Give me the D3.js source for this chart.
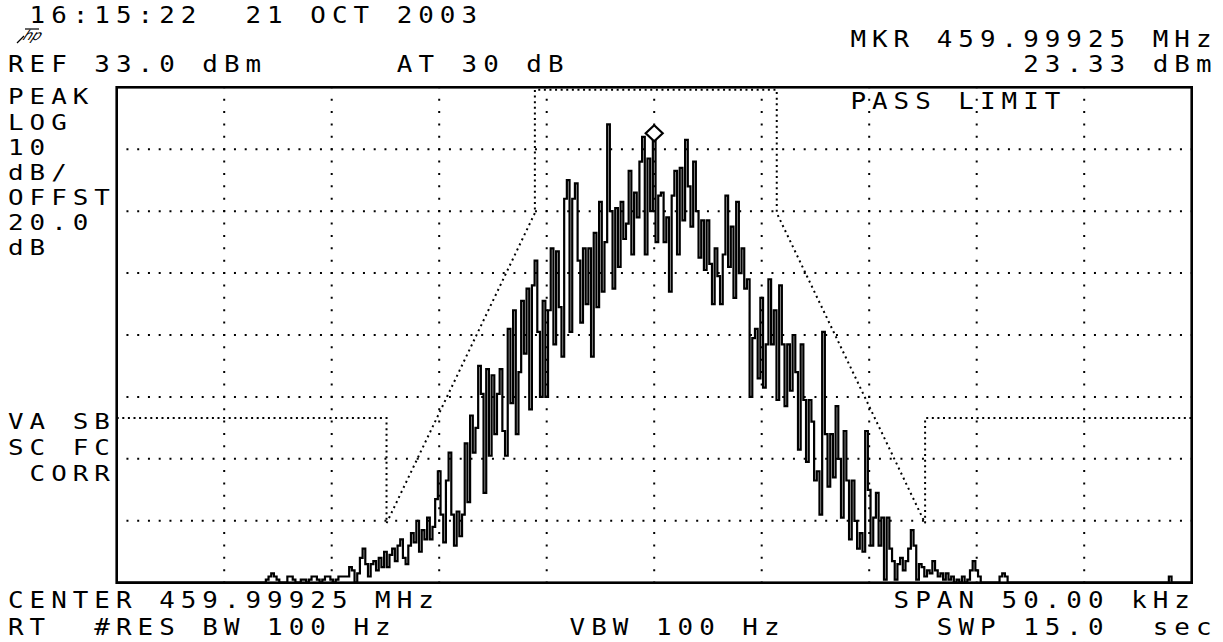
<!DOCTYPE html>
<html>
<head>
<meta charset="utf-8">
<script src="https://cdn.jsdelivr.net/npm/d3@7"></script>
<style>
  html, body { margin: 0; padding: 0; background: #fff; }
  svg text { font-family: "DejaVu Sans Mono", monospace; font-size: 22.5px; fill: #000; white-space: pre; }
</style>
</head>
<body>
<div id="chart"></div>
<script>
// analyzer settings
const refLevel = 33;      // dBm, top of screen
const dbPerDiv = 10;
const numDivY = 8;
const spanKHz = 50;

// trace, 401 sweep points, dBm
const traceDbm = [
  -48,-48,-48,-48,-48,-48,-48,-48,-48,-48,-48,-48,-48,-48,-48,-48,-48,-48,-48,-48,
  -48,-48,-48,-48,-48,-48,-48,-48,-48,-48,-48,-48,-48,-48,-48,-48,-48,-48,-48,-48,
  -48,-48,-48,-48,-48,-48,-48,-48,-48,-48,-48,-48,-48,-48,-48,
  -47,-46.5,-46,-45.5,-46,-46.5,-47,-47,-47,-46,-46,-46.5,-47,-47,-46.5,-46.5,-47,-46.5,-46,-46,
  -46.5,-47,-46.5,-46,-46,-46.5,-47,-46.5,-46,-46,-46,-46,-44.5,-45,-47,-45.5,-43,-41.5,-44,-46,
  -44,-43.5,-45,-43,-44.5,-42,-44.5,-42.5,-41.5,-43.5,-41,-40,-43,-44,-41,-39,-40.5,-37,-42,-38.5,
  -40,-36.5,-40,-38,-33.5,-29,-36,-40.5,-30.5,-26,-36,-41,-35.5,-39.5,-36,-24.5,-34,-20,-26,-22,
  -12,-16.5,-32.5,-12.5,-26.5,-13.5,-23,-16.5,-12.5,-22.5,-26.5,-6,-18,-3,-23,-13,-1.5,-10,0.5,-19,
  1,5,-6.5,-17,-1.5,-17,-3,7,-8.5,6.5,-2.5,-10.5,15,18,-6.5,15,17.5,5,-5,7,
  -2,7,-10.5,9.5,-2.5,14.5,0,8,27,13,0.5,13.5,4,14.5,8.5,11,19.5,6,16,12,
  21,25,6,21.5,13,25,8,15.5,16,8,12,0,15.5,19.5,6,20,11.5,24.5,17,10.5,
  21,13,5.5,11.5,3.5,11.5,4.5,-2,7,2.5,-2,6,15.5,4,10.5,-1,14.5,3,7,0.5,
  2,-17,-7.5,-6,-14,-1,-15.5,-8.5,2,-8.5,-3,-17.5,1,-8.5,-18.5,-8.5,-16,-7,-13,-25.5,
  -8.5,-17.5,-27.5,-17.5,-21,-30.5,-29,-36,-6.5,-23,-31.5,-23,-30,-18.5,-27,-36.5,-22.5,-30.5,-40,-30.5,
  -37,-41.5,-39,-42,-22.5,-32,-41,-36.5,-32.5,-41,-36.5,-46.5,-36.5,-41.5,-43.5,-46.5,-44,-43,-45,-43.5,
  -41.5,-38.5,-41,-46.5,-44,-44.5,-46,-45,-45.5,-43.5,-45,-46,-45.5,-46.5,-45.5,-46.5,-46,-47,-46.5,-47,
  -46,-47,-46.5,-45,-43.5,-45,-46,-47,-47,-47,-47,-47,-47,-47,-46,-45.5,-46,-47,
  -48,-48,-48,-48,-48,-48,-48,-48,-48,-48,-48,-48,-48,-48,-48,-48,-48,-48,-48,-48,
  -48,-48,-48,-48,-48,-48,-48,-48,-48,-48,-48,-48,-48,-48,-48,-48,-48,-48,-48,-48,
  -48,-48,-48,-48,-48,-48,-48,-48,-48,-48,-48,-48,-48,-48,-48,-48,-48,-48,-48,
  -46,-47.5,-48,-48,-48,-48,-48,-48,-48
];

// pass limit mask, kHz from center / dBm
const limitKHz = [-25, -12.45, -12.45, -5.55, -5.55, 5.7, 5.7, 12.6, 12.6, 25];
const limitDbm = [-20.4, -20.4, -37.4, 12.7, 32.6, 32.6, 12.7, -37.4, -20.4, -20.4];

// marker
const markerKHz = 0;
const markerDbm = 23.33;

// graticule lines
const gridKHz = [-20, -15, -10, -5, 0, 5, 10, 15, 20];
const gridDbm = [23, 13, 3, -7, -17, -27, -37];

// annotation text: [text, column, baseline]
const headerText = [
  [" 16:15:22  21 OCT 2003", 0, 23],
  ["MKR 459.99925 MHz", 39, 47],
  ["REF 33.0 dBm", 0, 72],
  ["AT 30 dB", 18, 72],
  ["23.33 dBm", 47, 72]
];
const sideText = [
  ["PEAK", 0, 104], ["LOG", 0, 129.5], ["10", 0, 155], ["dB/", 0, 180],
  ["OFFST", 0, 205], ["20.0", 0, 230], ["dB", 0, 255],
  ["VA SB", 0, 429], ["SC FC", 0, 455], [" CORR", 0, 481]
];
const footerText = [
  ["CENTER 459.99925 MHz", 0, 608],
  ["SPAN 50.00 kHz", 41, 608],
  ["RT  #RES BW 100 Hz", 0, 635],
  ["VBW 100 Hz", 26, 635],
  ["SWP 15.0  sec", 43, 635]
];
const limitTitle = ["PASS LIMIT", 39, 109];

const width = 1223, height = 642;
const box = { left: 116.7, right: 1191.7, top: 87.3, bottom: 582.7 };
const cellW = 21.6, cellX0 = 8;

const svg = d3.select("#chart").append("svg")
  .attr("width", width)
  .attr("height", height);

const x = d3.scaleLinear().domain([-spanKHz / 2, spanKHz / 2]).range([box.left, box.right]);
const y = d3.scaleLinear()
  .domain([refLevel - dbPerDiv * numDivY, refLevel])
  .range([box.bottom, box.top])
  .clamp(true);

// dotted graticule
svg.append("g").selectAll("line")
  .data(gridKHz)
  .enter().append("line")
  .attr("x1", d => x(d)).attr("x2", d => x(d))
  .attr("y1", box.top).attr("y2", box.bottom)
  .attr("stroke", "#000").attr("stroke-width", 2)
  .attr("stroke-dasharray", "2 10.38")
  .attr("stroke-dashoffset", -11.4);

svg.append("g").selectAll("line")
  .data(gridDbm)
  .enter().append("line")
  .attr("x1", box.left).attr("x2", box.right)
  .attr("y1", d => y(d)).attr("y2", d => y(d))
  .attr("stroke", "#000").attr("stroke-width", 2)
  .attr("stroke-dasharray", "2 8.75")
  .attr("stroke-dashoffset", -9.75);

// limit line
const limitPts = limitKHz.map((k, i) => [x(k), y(limitDbm[i])]);
svg.append("path")
  .attr("d", d3.line()(limitPts))
  .attr("fill", "none")
  .attr("stroke", "#000")
  .attr("stroke-width", 2)
  .attr("stroke-dasharray", "2 3.6");

// trace - the analyzer draws it as vertical strokes between sweep points
const tracePts = traceDbm.map((v, i) => [x(-spanKHz / 2 + i * spanKHz / (traceDbm.length - 1)), y(v)]);
svg.append("path")
  .attr("d", d3.line().curve(d3.curveStep)(tracePts))
  .attr("fill", "none")
  .attr("stroke", "#000")
  .attr("stroke-width", 2.2)
  .attr("stroke-linejoin", "miter");

// marker diamond (drawn above the trace point)
const mx = x(markerKHz), my = y(markerDbm) - 14;
svg.append("path")
  .attr("d", `M${mx},${my - 8} L${mx + 8.5},${my} L${mx},${my + 8} L${mx - 8.5},${my} Z`)
  .attr("fill", "#fff")
  .attr("stroke", "#000")
  .attr("stroke-width", 2.2);

// frame
svg.append("rect")
  .attr("x", box.left).attr("y", box.top)
  .attr("width", box.right - box.left)
  .attr("height", box.bottom - box.top)
  .attr("fill", "none")
  .attr("stroke", "#000")
  .attr("stroke-width", 2.6);

// text on the character grid
function put(t, size) {
  size = size || 22.5;
  const sx = 1.15 * 22.5 / size;
  svg.append("text")
    .attr("transform", `translate(${cellX0 + t[1] * cellW},${t[2]}) scale(${sx},1)`)
    .style("font-size", size + "px")
    .attr("letter-spacing", (cellW / sx - 0.602 * size) + "px")
    .text(t[0]);
}
headerText.forEach(t => put(t));
sideText.forEach(t => put(t, 20.5));
footerText.forEach(t => put(t));
put(limitTitle);

// hp logo
const logo = svg.append("g").attr("transform", "translate(17,27)");
logo.append("line")
  .attr("x1", 0).attr("y1", 16).attr("x2", 7).attr("y2", 9)
  .attr("stroke", "#000").attr("stroke-width", 1.3);
logo.append("text")
  .attr("transform", "translate(5,13) skewX(-25)")
  .style("font-family", "'DejaVu Sans', sans-serif")
  .style("font-size", "14px")
  .style("font-style", "italic")
  .text("hp");
logo.append("line")
  .attr("x1", 8).attr("y1", 2).attr("x2", 22).attr("y2", 2)
  .attr("stroke", "#000").attr("stroke-width", 1.2);
</script>
</body>
</html>
